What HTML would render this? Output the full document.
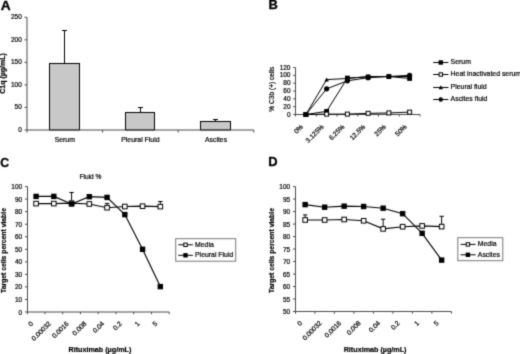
<!DOCTYPE html>
<html><head><meta charset="utf-8"><style>
html,body{margin:0;padding:0;background:#fff;width:520px;height:354px;overflow:hidden;}
svg{display:block;font-family:"Liberation Sans",sans-serif;}
</style></head><body>
<svg width="520" height="354" viewBox="0 0 520 354" font-family="Liberation Sans, sans-serif">
<defs><filter id="sf" x="0" y="0" width="520" height="354" filterUnits="userSpaceOnUse" color-interpolation-filters="sRGB"><feConvolveMatrix order="3" kernelMatrix="0.06 0.2 0.06 0.2 1.0 0.2 0.06 0.2 0.06" divisor="2.04" edgeMode="duplicate" preserveAlpha="true"/></filter></defs><g filter="url(#sf)"><rect width="520" height="354" fill="#fff"/><text x="0" y="0" font-size="12.3" font-weight="bold" transform="translate(0.70 9.50) scale(1.12 1)" fill="#000" stroke="#000" stroke-width="0.3">A</text>
<line x1="27.00" y1="17.30" x2="27.00" y2="130.00" stroke="#4a4a4a" stroke-width="1"/>
<line x1="24.50" y1="130.00" x2="27.00" y2="130.00" stroke="#4a4a4a" stroke-width="1"/>
<text x="21.80" y="132.00" font-size="6.5" text-anchor="end" fill="#000" stroke="#000" stroke-width="0.2">0</text>
<line x1="24.50" y1="107.46" x2="27.00" y2="107.46" stroke="#4a4a4a" stroke-width="1"/>
<text x="21.80" y="109.46" font-size="6.5" text-anchor="end" fill="#000" stroke="#000" stroke-width="0.2">50</text>
<line x1="24.50" y1="84.92" x2="27.00" y2="84.92" stroke="#4a4a4a" stroke-width="1"/>
<text x="21.80" y="86.92" font-size="6.5" text-anchor="end" fill="#000" stroke="#000" stroke-width="0.2">100</text>
<line x1="24.50" y1="62.38" x2="27.00" y2="62.38" stroke="#4a4a4a" stroke-width="1"/>
<text x="21.80" y="64.38" font-size="6.5" text-anchor="end" fill="#000" stroke="#000" stroke-width="0.2">150</text>
<line x1="24.50" y1="39.84" x2="27.00" y2="39.84" stroke="#4a4a4a" stroke-width="1"/>
<text x="21.80" y="41.84" font-size="6.5" text-anchor="end" fill="#000" stroke="#000" stroke-width="0.2">200</text>
<line x1="24.50" y1="17.30" x2="27.00" y2="17.30" stroke="#4a4a4a" stroke-width="1"/>
<text x="21.80" y="19.30" font-size="6.5" text-anchor="end" fill="#000" stroke="#000" stroke-width="0.2">250</text>
<line x1="27.00" y1="130.00" x2="27.00" y2="132.50" stroke="#4a4a4a" stroke-width="1"/>
<line x1="102.60" y1="130.00" x2="102.60" y2="132.50" stroke="#4a4a4a" stroke-width="1"/>
<line x1="178.20" y1="130.00" x2="178.20" y2="132.50" stroke="#4a4a4a" stroke-width="1"/>
<line x1="253.80" y1="130.00" x2="253.80" y2="132.50" stroke="#4a4a4a" stroke-width="1"/>
<line x1="64.50" y1="63.50" x2="64.50" y2="30.50" stroke="#000" stroke-width="1"/>
<line x1="62.00" y1="30.50" x2="67.00" y2="30.50" stroke="#000" stroke-width="1"/>
<rect x="49.50" y="63.50" width="30.00" height="66.50" fill="#c8c8c8" stroke="#000" stroke-width="1"/>
<text x="64.80" y="142.20" font-size="6.9" text-anchor="middle" fill="#000" stroke="#000" stroke-width="0.2">Serum</text>
<line x1="140.50" y1="112.50" x2="140.50" y2="107.50" stroke="#000" stroke-width="1"/>
<line x1="138.00" y1="107.50" x2="143.00" y2="107.50" stroke="#000" stroke-width="1"/>
<rect x="125.50" y="112.50" width="29.00" height="17.50" fill="#c8c8c8" stroke="#000" stroke-width="1"/>
<text x="140.40" y="142.20" font-size="6.9" text-anchor="middle" fill="#000" stroke="#000" stroke-width="0.2">Pleural Fluid</text>
<line x1="215.50" y1="121.50" x2="215.50" y2="119.50" stroke="#000" stroke-width="1"/>
<line x1="213.00" y1="119.50" x2="218.00" y2="119.50" stroke="#000" stroke-width="1"/>
<rect x="200.50" y="121.50" width="30.00" height="8.50" fill="#c8c8c8" stroke="#000" stroke-width="1"/>
<text x="216.00" y="142.20" font-size="6.9" text-anchor="middle" fill="#000" stroke="#000" stroke-width="0.2">Ascites</text>
<line x1="27.00" y1="130.00" x2="253.80" y2="130.00" stroke="#4a4a4a" stroke-width="1"/>
<text x="4.70" y="73.40" font-size="7.0" text-anchor="middle" font-weight="bold" transform="rotate(-90 4.70 73.40)" fill="#000" stroke="#000" stroke-width="0.2">C1q (µg/mL)</text>
<text x="0" y="0" font-size="12.3" font-weight="bold" transform="translate(268.60 9.00) scale(1.05 1)" fill="#000" stroke="#000" stroke-width="0.3">B</text>
<line x1="295.50" y1="67.50" x2="295.50" y2="114.50" stroke="#4a4a4a" stroke-width="1"/>
<line x1="293.20" y1="114.50" x2="295.50" y2="114.50" stroke="#4a4a4a" stroke-width="1"/>
<text x="290.50" y="116.60" font-size="6.5" text-anchor="end" fill="#000" stroke="#000" stroke-width="0.2">0</text>
<line x1="293.20" y1="106.67" x2="295.50" y2="106.67" stroke="#4a4a4a" stroke-width="1"/>
<text x="290.50" y="108.77" font-size="6.5" text-anchor="end" fill="#000" stroke="#000" stroke-width="0.2">20</text>
<line x1="293.20" y1="98.83" x2="295.50" y2="98.83" stroke="#4a4a4a" stroke-width="1"/>
<text x="290.50" y="100.93" font-size="6.5" text-anchor="end" fill="#000" stroke="#000" stroke-width="0.2">40</text>
<line x1="293.20" y1="91.00" x2="295.50" y2="91.00" stroke="#4a4a4a" stroke-width="1"/>
<text x="290.50" y="93.10" font-size="6.5" text-anchor="end" fill="#000" stroke="#000" stroke-width="0.2">60</text>
<line x1="293.20" y1="83.17" x2="295.50" y2="83.17" stroke="#4a4a4a" stroke-width="1"/>
<text x="290.50" y="85.27" font-size="6.5" text-anchor="end" fill="#000" stroke="#000" stroke-width="0.2">80</text>
<line x1="293.20" y1="75.33" x2="295.50" y2="75.33" stroke="#4a4a4a" stroke-width="1"/>
<text x="290.50" y="77.43" font-size="6.5" text-anchor="end" fill="#000" stroke="#000" stroke-width="0.2">100</text>
<line x1="293.20" y1="67.50" x2="295.50" y2="67.50" stroke="#4a4a4a" stroke-width="1"/>
<text x="290.50" y="69.60" font-size="6.5" text-anchor="end" fill="#000" stroke="#000" stroke-width="0.2">120</text>
<line x1="295.50" y1="114.50" x2="420.00" y2="114.50" stroke="#4a4a4a" stroke-width="1"/>
<line x1="295.50" y1="114.50" x2="295.50" y2="116.50" stroke="#4a4a4a" stroke-width="1"/>
<line x1="316.25" y1="114.50" x2="316.25" y2="116.50" stroke="#4a4a4a" stroke-width="1"/>
<line x1="337.00" y1="114.50" x2="337.00" y2="116.50" stroke="#4a4a4a" stroke-width="1"/>
<line x1="357.75" y1="114.50" x2="357.75" y2="116.50" stroke="#4a4a4a" stroke-width="1"/>
<line x1="378.50" y1="114.50" x2="378.50" y2="116.50" stroke="#4a4a4a" stroke-width="1"/>
<line x1="399.25" y1="114.50" x2="399.25" y2="116.50" stroke="#4a4a4a" stroke-width="1"/>
<line x1="420.00" y1="114.50" x2="420.00" y2="116.50" stroke="#4a4a4a" stroke-width="1"/>
<text x="303.57" y="127.20" font-size="6.7" text-anchor="end" transform="rotate(-45 303.57 127.20)" fill="#000" stroke="#000" stroke-width="0.2">0%</text>
<text x="324.32" y="127.20" font-size="6.7" text-anchor="end" transform="rotate(-45 324.32 127.20)" fill="#000" stroke="#000" stroke-width="0.2">3.125%</text>
<text x="345.07" y="127.20" font-size="6.7" text-anchor="end" transform="rotate(-45 345.07 127.20)" fill="#000" stroke="#000" stroke-width="0.2">6.25%</text>
<text x="365.82" y="127.20" font-size="6.7" text-anchor="end" transform="rotate(-45 365.82 127.20)" fill="#000" stroke="#000" stroke-width="0.2">12.5%</text>
<text x="386.57" y="127.20" font-size="6.7" text-anchor="end" transform="rotate(-45 386.57 127.20)" fill="#000" stroke="#000" stroke-width="0.2">25%</text>
<text x="407.32" y="127.20" font-size="6.7" text-anchor="end" transform="rotate(-45 407.32 127.20)" fill="#000" stroke="#000" stroke-width="0.2">50%</text>
<text x="273.60" y="89.20" font-size="6.6" text-anchor="middle" transform="rotate(-90 273.60 89.20)" fill="#000" stroke="#000" stroke-width="0.2">% C3b (+) cells</text>
<polyline points="305.88,114.50 326.62,111.37 347.38,78.08 368.12,76.90 388.88,76.51 409.62,78.47" fill="none" stroke="#000" stroke-width="1.0"/>
<rect x="303.48" y="112.10" width="4.80" height="4.80" fill="#000"/>
<rect x="324.23" y="108.97" width="4.80" height="4.80" fill="#000"/>
<rect x="344.98" y="75.67" width="4.80" height="4.80" fill="#000"/>
<rect x="365.73" y="74.50" width="4.80" height="4.80" fill="#000"/>
<rect x="386.48" y="74.11" width="4.80" height="4.80" fill="#000"/>
<rect x="407.23" y="76.07" width="4.80" height="4.80" fill="#000"/>
<polyline points="305.88,114.50 326.62,114.11 347.38,114.11 368.12,113.33 388.88,112.93 409.62,112.15" fill="none" stroke="#000" stroke-width="1.0"/>
<rect x="303.88" y="112.50" width="4.00" height="4.00" fill="#fff" stroke="#000" stroke-width="1"/>
<rect x="324.62" y="112.11" width="4.00" height="4.00" fill="#fff" stroke="#000" stroke-width="1"/>
<rect x="345.38" y="112.11" width="4.00" height="4.00" fill="#fff" stroke="#000" stroke-width="1"/>
<rect x="366.12" y="111.33" width="4.00" height="4.00" fill="#fff" stroke="#000" stroke-width="1"/>
<rect x="386.88" y="110.93" width="4.00" height="4.00" fill="#fff" stroke="#000" stroke-width="1"/>
<rect x="407.62" y="110.15" width="4.00" height="4.00" fill="#fff" stroke="#000" stroke-width="1"/>
<polyline points="305.88,114.50 326.62,79.64 347.38,78.47 368.12,76.51 388.88,76.51 409.62,76.51" fill="none" stroke="#000" stroke-width="1.0"/>
<polygon points="305.88,112.30 308.07,116.26 303.68,116.26" fill="#000"/>
<polygon points="326.62,77.44 328.82,81.40 324.43,81.40" fill="#000"/>
<polygon points="347.38,76.27 349.57,80.23 345.18,80.23" fill="#000"/>
<polygon points="368.12,74.31 370.32,78.27 365.93,78.27" fill="#000"/>
<polygon points="388.88,74.31 391.07,78.27 386.68,78.27" fill="#000"/>
<polygon points="409.62,74.31 411.82,78.27 407.43,78.27" fill="#000"/>
<polyline points="305.88,114.50 326.62,88.85 347.38,80.82 368.12,77.68 388.88,76.51 409.62,75.33" fill="none" stroke="#000" stroke-width="1.0"/>
<circle cx="305.88" cy="114.50" r="2.60" fill="#000"/>
<circle cx="326.62" cy="88.85" r="2.60" fill="#000"/>
<circle cx="347.38" cy="80.82" r="2.60" fill="#000"/>
<circle cx="368.12" cy="77.68" r="2.60" fill="#000"/>
<circle cx="388.88" cy="76.51" r="2.60" fill="#000"/>
<circle cx="409.62" cy="75.33" r="2.60" fill="#000"/>
<line x1="433.20" y1="62.50" x2="448.40" y2="62.50" stroke="#000" stroke-width="1"/>
<rect x="438.60" y="60.30" width="4.40" height="4.40" fill="#000"/>
<text x="450.60" y="64.40" font-size="6.9" text-anchor="start" fill="#000" stroke="#000" stroke-width="0.2">Serum</text>
<line x1="433.20" y1="74.50" x2="448.40" y2="74.50" stroke="#000" stroke-width="1"/>
<rect x="439.10" y="72.80" width="3.40" height="3.40" fill="#fff" stroke="#000" stroke-width="1"/>
<text x="450.60" y="76.40" font-size="6.9" text-anchor="start" fill="#000" stroke="#000" stroke-width="0.2">Heat inactivated serum</text>
<line x1="433.20" y1="87.50" x2="448.40" y2="87.50" stroke="#000" stroke-width="1"/>
<polygon points="440.80,85.30 443.00,89.26 438.60,89.26" fill="#000"/>
<text x="450.60" y="89.40" font-size="6.9" text-anchor="start" fill="#000" stroke="#000" stroke-width="0.2">Pleural fluid</text>
<line x1="433.20" y1="99.50" x2="448.40" y2="99.50" stroke="#000" stroke-width="1"/>
<circle cx="440.80" cy="99.50" r="2.20" fill="#000"/>
<text x="450.60" y="101.40" font-size="6.9" text-anchor="start" fill="#000" stroke="#000" stroke-width="0.2">Ascites fluid</text>
<text x="0" y="0" font-size="12.3" font-weight="bold" transform="translate(0.20 167.20) scale(1.0 1)" fill="#000" stroke="#000" stroke-width="0.3">C</text>
<line x1="27.50" y1="186.60" x2="27.50" y2="312.00" stroke="#4a4a4a" stroke-width="1"/>
<line x1="25.00" y1="312.00" x2="27.50" y2="312.00" stroke="#4a4a4a" stroke-width="1"/>
<text x="22.20" y="314.50" font-size="6.5" text-anchor="end" fill="#000" stroke="#000" stroke-width="0.2">0</text>
<line x1="25.00" y1="299.46" x2="27.50" y2="299.46" stroke="#4a4a4a" stroke-width="1"/>
<text x="22.20" y="301.96" font-size="6.5" text-anchor="end" fill="#000" stroke="#000" stroke-width="0.2">10</text>
<line x1="25.00" y1="286.92" x2="27.50" y2="286.92" stroke="#4a4a4a" stroke-width="1"/>
<text x="22.20" y="289.42" font-size="6.5" text-anchor="end" fill="#000" stroke="#000" stroke-width="0.2">20</text>
<line x1="25.00" y1="274.38" x2="27.50" y2="274.38" stroke="#4a4a4a" stroke-width="1"/>
<text x="22.20" y="276.88" font-size="6.5" text-anchor="end" fill="#000" stroke="#000" stroke-width="0.2">30</text>
<line x1="25.00" y1="261.84" x2="27.50" y2="261.84" stroke="#4a4a4a" stroke-width="1"/>
<text x="22.20" y="264.34" font-size="6.5" text-anchor="end" fill="#000" stroke="#000" stroke-width="0.2">40</text>
<line x1="25.00" y1="249.30" x2="27.50" y2="249.30" stroke="#4a4a4a" stroke-width="1"/>
<text x="22.20" y="251.80" font-size="6.5" text-anchor="end" fill="#000" stroke="#000" stroke-width="0.2">50</text>
<line x1="25.00" y1="236.76" x2="27.50" y2="236.76" stroke="#4a4a4a" stroke-width="1"/>
<text x="22.20" y="239.26" font-size="6.5" text-anchor="end" fill="#000" stroke="#000" stroke-width="0.2">60</text>
<line x1="25.00" y1="224.22" x2="27.50" y2="224.22" stroke="#4a4a4a" stroke-width="1"/>
<text x="22.20" y="226.72" font-size="6.5" text-anchor="end" fill="#000" stroke="#000" stroke-width="0.2">70</text>
<line x1="25.00" y1="211.68" x2="27.50" y2="211.68" stroke="#4a4a4a" stroke-width="1"/>
<text x="22.20" y="214.18" font-size="6.5" text-anchor="end" fill="#000" stroke="#000" stroke-width="0.2">80</text>
<line x1="25.00" y1="199.14" x2="27.50" y2="199.14" stroke="#4a4a4a" stroke-width="1"/>
<text x="22.20" y="201.64" font-size="6.5" text-anchor="end" fill="#000" stroke="#000" stroke-width="0.2">90</text>
<line x1="25.00" y1="186.60" x2="27.50" y2="186.60" stroke="#4a4a4a" stroke-width="1"/>
<text x="22.20" y="189.10" font-size="6.5" text-anchor="end" fill="#000" stroke="#000" stroke-width="0.2">100</text>
<line x1="27.50" y1="312.00" x2="169.20" y2="312.00" stroke="#4a4a4a" stroke-width="1"/>
<line x1="27.50" y1="312.00" x2="27.50" y2="314.20" stroke="#4a4a4a" stroke-width="1"/>
<line x1="44.95" y1="312.00" x2="44.95" y2="314.20" stroke="#4a4a4a" stroke-width="1"/>
<line x1="62.70" y1="312.00" x2="62.70" y2="314.20" stroke="#4a4a4a" stroke-width="1"/>
<line x1="80.45" y1="312.00" x2="80.45" y2="314.20" stroke="#4a4a4a" stroke-width="1"/>
<line x1="98.20" y1="312.00" x2="98.20" y2="314.20" stroke="#4a4a4a" stroke-width="1"/>
<line x1="115.95" y1="312.00" x2="115.95" y2="314.20" stroke="#4a4a4a" stroke-width="1"/>
<line x1="133.70" y1="312.00" x2="133.70" y2="314.20" stroke="#4a4a4a" stroke-width="1"/>
<line x1="151.45" y1="312.00" x2="151.45" y2="314.20" stroke="#4a4a4a" stroke-width="1"/>
<line x1="169.20" y1="312.00" x2="169.20" y2="314.20" stroke="#4a4a4a" stroke-width="1"/>
<text x="33.68" y="324.10" font-size="6.7" text-anchor="end" transform="rotate(-45 33.68 324.10)" fill="#000" stroke="#000" stroke-width="0.2">0</text>
<text x="51.43" y="324.10" font-size="6.7" text-anchor="end" transform="rotate(-45 51.43 324.10)" fill="#000" stroke="#000" stroke-width="0.2">0.00032</text>
<text x="69.17" y="324.10" font-size="6.7" text-anchor="end" transform="rotate(-45 69.17 324.10)" fill="#000" stroke="#000" stroke-width="0.2">0.0016</text>
<text x="86.92" y="324.10" font-size="6.7" text-anchor="end" transform="rotate(-45 86.92 324.10)" fill="#000" stroke="#000" stroke-width="0.2">0.008</text>
<text x="104.67" y="324.10" font-size="6.7" text-anchor="end" transform="rotate(-45 104.67 324.10)" fill="#000" stroke="#000" stroke-width="0.2">0.04</text>
<text x="122.42" y="324.10" font-size="6.7" text-anchor="end" transform="rotate(-45 122.42 324.10)" fill="#000" stroke="#000" stroke-width="0.2">0.2</text>
<text x="140.17" y="324.10" font-size="6.7" text-anchor="end" transform="rotate(-45 140.17 324.10)" fill="#000" stroke="#000" stroke-width="0.2">1</text>
<text x="157.92" y="324.10" font-size="6.7" text-anchor="end" transform="rotate(-45 157.92 324.10)" fill="#000" stroke="#000" stroke-width="0.2">5</text>
<text x="5.60" y="250.50" font-size="6.8" text-anchor="middle" font-weight="bold" transform="rotate(-90 5.60 250.50)" fill="#000" stroke="#000" stroke-width="0.2">Target cells percent viable</text>
<text x="99.90" y="351.50" font-size="7.2" text-anchor="middle" font-weight="bold" fill="#000" stroke="#000" stroke-width="0.2">Rituximab (µg/mL)</text>
<line x1="71.58" y1="203.20" x2="71.58" y2="192.50" stroke="#000" stroke-width="1"/>
<line x1="69.38" y1="192.50" x2="73.78" y2="192.50" stroke="#000" stroke-width="1"/>
<line x1="107.08" y1="207.70" x2="107.08" y2="203.40" stroke="#000" stroke-width="1"/>
<line x1="104.88" y1="203.40" x2="109.28" y2="203.40" stroke="#000" stroke-width="1"/>
<line x1="160.32" y1="206.60" x2="160.32" y2="201.50" stroke="#000" stroke-width="1"/>
<line x1="158.12" y1="201.50" x2="162.52" y2="201.50" stroke="#000" stroke-width="1"/>
<polyline points="36.08,203.60 53.83,203.60 71.58,203.20 89.33,204.00 107.08,207.70 124.83,206.50 142.57,206.20 160.32,206.60" fill="none" stroke="#000" stroke-width="1.15"/>
<rect x="33.78" y="201.30" width="4.60" height="4.60" fill="#fff" stroke="#000" stroke-width="1"/>
<rect x="51.53" y="201.30" width="4.60" height="4.60" fill="#fff" stroke="#000" stroke-width="1"/>
<rect x="69.28" y="200.90" width="4.60" height="4.60" fill="#fff" stroke="#000" stroke-width="1"/>
<rect x="87.03" y="201.70" width="4.60" height="4.60" fill="#fff" stroke="#000" stroke-width="1"/>
<rect x="104.78" y="205.40" width="4.60" height="4.60" fill="#fff" stroke="#000" stroke-width="1"/>
<rect x="122.53" y="204.20" width="4.60" height="4.60" fill="#fff" stroke="#000" stroke-width="1"/>
<rect x="140.27" y="203.90" width="4.60" height="4.60" fill="#fff" stroke="#000" stroke-width="1"/>
<rect x="158.02" y="204.30" width="4.60" height="4.60" fill="#fff" stroke="#000" stroke-width="1"/>
<polyline points="36.08,196.40 53.83,196.40 71.58,204.00 89.33,196.70 107.08,197.40 124.83,214.60 142.57,249.30 160.32,286.60" fill="none" stroke="#000" stroke-width="1.15"/>
<rect x="33.38" y="193.70" width="5.40" height="5.40" fill="#000"/>
<rect x="51.12" y="193.70" width="5.40" height="5.40" fill="#000"/>
<rect x="68.88" y="201.30" width="5.40" height="5.40" fill="#000"/>
<rect x="86.62" y="194.00" width="5.40" height="5.40" fill="#000"/>
<rect x="104.38" y="194.70" width="5.40" height="5.40" fill="#000"/>
<rect x="122.12" y="211.90" width="5.40" height="5.40" fill="#000"/>
<rect x="139.88" y="246.60" width="5.40" height="5.40" fill="#000"/>
<rect x="157.62" y="283.90" width="5.40" height="5.40" fill="#000"/>
<rect x="175.70" y="238.70" width="60.00" height="22.50" fill="#fff" stroke="#777" stroke-width="1"/>
<line x1="178.30" y1="244.80" x2="192.90" y2="244.80" stroke="#000" stroke-width="1"/>
<rect x="183.80" y="243.10" width="3.40" height="3.40" fill="#fff" stroke="#000" stroke-width="1"/>
<text x="195.00" y="246.60" font-size="6.9" text-anchor="start" fill="#000" stroke="#000" stroke-width="0.2">Media</text>
<line x1="178.30" y1="255.30" x2="192.90" y2="255.30" stroke="#000" stroke-width="1"/>
<rect x="183.30" y="253.10" width="4.40" height="4.40" fill="#000"/>
<text x="195.00" y="257.10" font-size="6.9" text-anchor="start" fill="#000" stroke="#000" stroke-width="0.2">Pleural Fluid</text>
<text x="90.50" y="178.80" font-size="6.6" text-anchor="middle" fill="#000" stroke="#000" stroke-width="0.2">Fluid %</text>
<text x="0" y="0" font-size="12.3" font-weight="bold" transform="translate(268.20 166.10) scale(1.05 1)" fill="#000" stroke="#000" stroke-width="0.3">D</text>
<line x1="295.50" y1="186.60" x2="295.50" y2="311.50" stroke="#4a4a4a" stroke-width="1"/>
<line x1="293.00" y1="311.50" x2="295.50" y2="311.50" stroke="#4a4a4a" stroke-width="1"/>
<text x="290.20" y="314.00" font-size="6.5" text-anchor="end" fill="#000" stroke="#000" stroke-width="0.2">50</text>
<line x1="293.00" y1="299.01" x2="295.50" y2="299.01" stroke="#4a4a4a" stroke-width="1"/>
<text x="290.20" y="301.51" font-size="6.5" text-anchor="end" fill="#000" stroke="#000" stroke-width="0.2">55</text>
<line x1="293.00" y1="286.52" x2="295.50" y2="286.52" stroke="#4a4a4a" stroke-width="1"/>
<text x="290.20" y="289.02" font-size="6.5" text-anchor="end" fill="#000" stroke="#000" stroke-width="0.2">60</text>
<line x1="293.00" y1="274.03" x2="295.50" y2="274.03" stroke="#4a4a4a" stroke-width="1"/>
<text x="290.20" y="276.53" font-size="6.5" text-anchor="end" fill="#000" stroke="#000" stroke-width="0.2">65</text>
<line x1="293.00" y1="261.54" x2="295.50" y2="261.54" stroke="#4a4a4a" stroke-width="1"/>
<text x="290.20" y="264.04" font-size="6.5" text-anchor="end" fill="#000" stroke="#000" stroke-width="0.2">70</text>
<line x1="293.00" y1="249.05" x2="295.50" y2="249.05" stroke="#4a4a4a" stroke-width="1"/>
<text x="290.20" y="251.55" font-size="6.5" text-anchor="end" fill="#000" stroke="#000" stroke-width="0.2">75</text>
<line x1="293.00" y1="236.56" x2="295.50" y2="236.56" stroke="#4a4a4a" stroke-width="1"/>
<text x="290.20" y="239.06" font-size="6.5" text-anchor="end" fill="#000" stroke="#000" stroke-width="0.2">80</text>
<line x1="293.00" y1="224.07" x2="295.50" y2="224.07" stroke="#4a4a4a" stroke-width="1"/>
<text x="290.20" y="226.57" font-size="6.5" text-anchor="end" fill="#000" stroke="#000" stroke-width="0.2">85</text>
<line x1="293.00" y1="211.58" x2="295.50" y2="211.58" stroke="#4a4a4a" stroke-width="1"/>
<text x="290.20" y="214.08" font-size="6.5" text-anchor="end" fill="#000" stroke="#000" stroke-width="0.2">90</text>
<line x1="293.00" y1="199.09" x2="295.50" y2="199.09" stroke="#4a4a4a" stroke-width="1"/>
<text x="290.20" y="201.59" font-size="6.5" text-anchor="end" fill="#000" stroke="#000" stroke-width="0.2">95</text>
<line x1="293.00" y1="186.60" x2="295.50" y2="186.60" stroke="#4a4a4a" stroke-width="1"/>
<text x="290.20" y="189.10" font-size="6.5" text-anchor="end" fill="#000" stroke="#000" stroke-width="0.2">100</text>
<line x1="295.50" y1="311.50" x2="451.40" y2="311.50" stroke="#4a4a4a" stroke-width="1"/>
<line x1="295.50" y1="311.50" x2="295.50" y2="313.70" stroke="#4a4a4a" stroke-width="1"/>
<line x1="314.90" y1="311.50" x2="314.90" y2="313.70" stroke="#4a4a4a" stroke-width="1"/>
<line x1="334.40" y1="311.50" x2="334.40" y2="313.70" stroke="#4a4a4a" stroke-width="1"/>
<line x1="353.90" y1="311.50" x2="353.90" y2="313.70" stroke="#4a4a4a" stroke-width="1"/>
<line x1="373.40" y1="311.50" x2="373.40" y2="313.70" stroke="#4a4a4a" stroke-width="1"/>
<line x1="392.90" y1="311.50" x2="392.90" y2="313.70" stroke="#4a4a4a" stroke-width="1"/>
<line x1="412.40" y1="311.50" x2="412.40" y2="313.70" stroke="#4a4a4a" stroke-width="1"/>
<line x1="431.90" y1="311.50" x2="431.90" y2="313.70" stroke="#4a4a4a" stroke-width="1"/>
<line x1="451.40" y1="311.50" x2="451.40" y2="313.70" stroke="#4a4a4a" stroke-width="1"/>
<text x="302.75" y="323.60" font-size="6.7" text-anchor="end" transform="rotate(-45 302.75 323.60)" fill="#000" stroke="#000" stroke-width="0.2">0</text>
<text x="322.25" y="323.60" font-size="6.7" text-anchor="end" transform="rotate(-45 322.25 323.60)" fill="#000" stroke="#000" stroke-width="0.2">0.00032</text>
<text x="341.75" y="323.60" font-size="6.7" text-anchor="end" transform="rotate(-45 341.75 323.60)" fill="#000" stroke="#000" stroke-width="0.2">0.0016</text>
<text x="361.25" y="323.60" font-size="6.7" text-anchor="end" transform="rotate(-45 361.25 323.60)" fill="#000" stroke="#000" stroke-width="0.2">0.008</text>
<text x="380.75" y="323.60" font-size="6.7" text-anchor="end" transform="rotate(-45 380.75 323.60)" fill="#000" stroke="#000" stroke-width="0.2">0.04</text>
<text x="400.25" y="323.60" font-size="6.7" text-anchor="end" transform="rotate(-45 400.25 323.60)" fill="#000" stroke="#000" stroke-width="0.2">0.2</text>
<text x="419.75" y="323.60" font-size="6.7" text-anchor="end" transform="rotate(-45 419.75 323.60)" fill="#000" stroke="#000" stroke-width="0.2">1</text>
<text x="439.25" y="323.60" font-size="6.7" text-anchor="end" transform="rotate(-45 439.25 323.60)" fill="#000" stroke="#000" stroke-width="0.2">5</text>
<text x="273.80" y="250.50" font-size="6.8" text-anchor="middle" font-weight="bold" transform="rotate(-90 273.80 250.50)" fill="#000" stroke="#000" stroke-width="0.2">Target cells percent viable</text>
<text x="375.10" y="351.50" font-size="7.2" text-anchor="middle" font-weight="bold" fill="#000" stroke="#000" stroke-width="0.2">Rituximab (µg/mL)</text>
<line x1="305.15" y1="220.00" x2="305.15" y2="214.90" stroke="#000" stroke-width="1"/>
<line x1="302.95" y1="214.90" x2="307.35" y2="214.90" stroke="#000" stroke-width="1"/>
<line x1="383.15" y1="228.90" x2="383.15" y2="219.20" stroke="#000" stroke-width="1"/>
<line x1="380.95" y1="219.20" x2="385.35" y2="219.20" stroke="#000" stroke-width="1"/>
<line x1="441.65" y1="226.60" x2="441.65" y2="216.30" stroke="#000" stroke-width="1"/>
<line x1="439.45" y1="216.30" x2="443.85" y2="216.30" stroke="#000" stroke-width="1"/>
<polyline points="305.15,220.00 324.65,220.00 344.15,219.50 363.65,220.80 383.15,228.90 402.65,226.70 422.15,225.90 441.65,226.60" fill="none" stroke="#000" stroke-width="1.15"/>
<rect x="302.85" y="217.70" width="4.60" height="4.60" fill="#fff" stroke="#000" stroke-width="1"/>
<rect x="322.35" y="217.70" width="4.60" height="4.60" fill="#fff" stroke="#000" stroke-width="1"/>
<rect x="341.85" y="217.20" width="4.60" height="4.60" fill="#fff" stroke="#000" stroke-width="1"/>
<rect x="361.35" y="218.50" width="4.60" height="4.60" fill="#fff" stroke="#000" stroke-width="1"/>
<rect x="380.85" y="226.60" width="4.60" height="4.60" fill="#fff" stroke="#000" stroke-width="1"/>
<rect x="400.35" y="224.40" width="4.60" height="4.60" fill="#fff" stroke="#000" stroke-width="1"/>
<rect x="419.85" y="223.60" width="4.60" height="4.60" fill="#fff" stroke="#000" stroke-width="1"/>
<rect x="439.35" y="224.30" width="4.60" height="4.60" fill="#fff" stroke="#000" stroke-width="1"/>
<polyline points="305.15,204.60 324.65,207.20 344.15,206.20 363.65,206.50 383.15,208.20 402.65,213.70 422.15,233.30 441.65,260.10" fill="none" stroke="#000" stroke-width="1.15"/>
<rect x="302.45" y="201.90" width="5.40" height="5.40" fill="#000"/>
<rect x="321.95" y="204.50" width="5.40" height="5.40" fill="#000"/>
<rect x="341.45" y="203.50" width="5.40" height="5.40" fill="#000"/>
<rect x="360.95" y="203.80" width="5.40" height="5.40" fill="#000"/>
<rect x="380.45" y="205.50" width="5.40" height="5.40" fill="#000"/>
<rect x="399.95" y="211.00" width="5.40" height="5.40" fill="#000"/>
<rect x="419.45" y="230.60" width="5.40" height="5.40" fill="#000"/>
<rect x="438.95" y="257.40" width="5.40" height="5.40" fill="#000"/>
<rect x="457.80" y="237.70" width="45.00" height="23.00" fill="#fff" stroke="#777" stroke-width="1"/>
<line x1="460.60" y1="244.40" x2="475.60" y2="244.40" stroke="#000" stroke-width="1"/>
<rect x="466.20" y="242.70" width="3.40" height="3.40" fill="#fff" stroke="#000" stroke-width="1"/>
<text x="477.80" y="246.20" font-size="6.9" text-anchor="start" fill="#000" stroke="#000" stroke-width="0.2">Media</text>
<line x1="460.60" y1="254.80" x2="475.60" y2="254.80" stroke="#000" stroke-width="1"/>
<rect x="465.70" y="252.60" width="4.40" height="4.40" fill="#000"/>
<text x="477.80" y="256.60" font-size="6.9" text-anchor="start" fill="#000" stroke="#000" stroke-width="0.2">Ascites</text></g>
</svg>
</body></html>
